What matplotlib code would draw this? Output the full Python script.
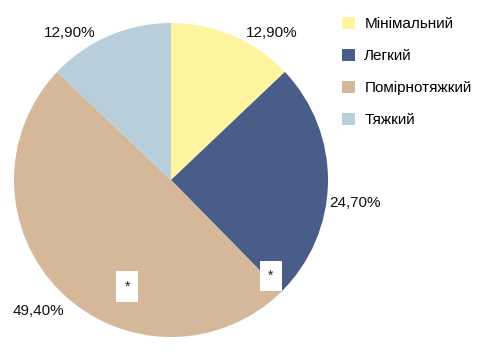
import matplotlib
matplotlib.use("Agg")
import matplotlib.pyplot as plt
from matplotlib.patches import Patch
from matplotlib import font_manager

categories = ["Мінімальний", "Легкий", "Помірнотяжкий", "Тяжкий"]
values = [12.9, 24.7, 49.4, 12.9]
labels = ["12,90%", "24,70%", "49,40%", "12,90%"]
colors = ["#FFF59F", "#4A5D89", "#D5B899", "#B8CFDB"]

names = {f.name for f in font_manager.fontManager.ttflist}
fam = ["Liberation Sans Narrow", "DejaVu Sans"] if "Liberation Sans Narrow" in names else ["Liberation Sans", "DejaVu Sans"]
plt.rcParams["font.family"] = fam

fig = plt.figure(figsize=(4.78, 3.54), dpi=100)
ax = fig.add_axes([14/478, (354-180-157)/354, 314/478, 314/354])
wedges, _ = ax.pie(values, colors=colors, startangle=90, counterclock=False,
                   radius=1, wedgeprops=dict(linewidth=0))
ax.set_xlim(-1, 1)
ax.set_ylim(-1, 1)
ax.set_aspect("equal")
ax.axis("off")

label_pos = [(0.643, 0.936), (1.17, -0.146), (-0.847, -0.834), (-0.643, 0.936)]
for (x, y), t in zip(label_pos, labels):
    ax.text(x, y, t, ha="center", va="center", fontsize=11, color="#111111", clip_on=False)

for (x, y) in [(-0.28, -0.68), (0.637, -0.611)]:
    ax.text(x, y, "*", ha="center", va="center", fontsize=10, color="#222222",
            bbox=dict(boxstyle="square,pad=0.6", fc="white", ec="none"))

handles = [Patch(facecolor=c, edgecolor="none") for c in colors]
fig.legend(handles, categories, loc="upper left", bbox_to_anchor=(336/478, 1 - 11/354),
           frameon=False, fontsize=11, handlelength=0.85, handleheight=0.85,
           handletextpad=0.6, labelspacing=1.15, borderaxespad=0)

fig.savefig("out.png", dpi=100)
